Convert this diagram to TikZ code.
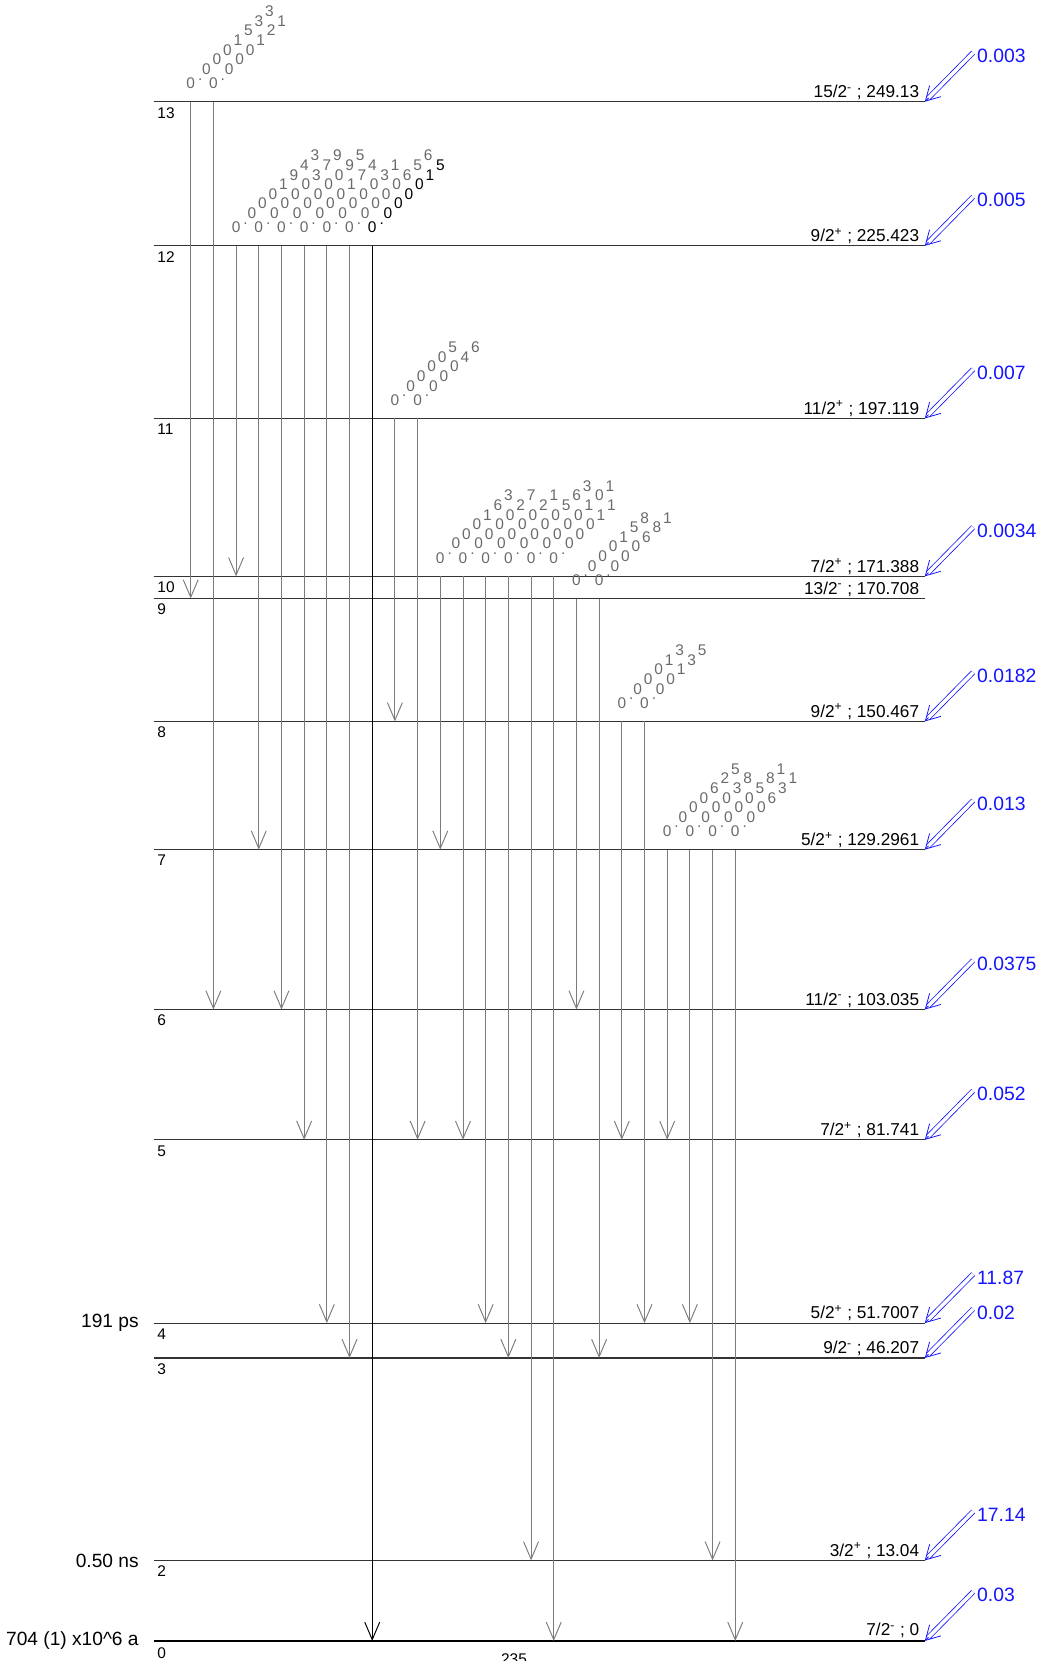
\documentclass[tikz,border=0pt]{standalone}
\usepackage{fontspec}
\setmainfont{Liberation Sans}
\usetikzlibrary{arrows.meta,calc}
\definecolor{lvlc}{HTML}{333333}
\definecolor{gam}{HTML}{7C7C7C}
\definecolor{glab}{HTML}{6A6A6A}
\definecolor{feedc}{HTML}{1414FF}

% one step along a slanted intensity label
\newcommand{\sx}{10.5}
\newcommand{\sy}{-9.6}
% \ilab[colour]{gamma}{level}{digits after "0."}
\newcommand{\ilab}[4][glab]{%
  \coordinate (#2b) at ($(#2 |- #3)+(0,-13)$);
  \node[glyph,text=#1] (#2z) at (#2b) {0};
  \node[glyph,text=#1] (#2p) at ($(#2b)+(0.9*\sx,0.9*\sy)$) {.};
  \foreach \c [count=\k] in {#4}
    \node[glyph,text=#1] (#2d\k) at ($(#2b)+({(\k+0.5)*\sx},{(\k+0.5)*\sy})$) {\c};
}

\begin{document}
\begin{tikzpicture}[x=0.02cm,y=-0.02cm,
  level/.style={lvlc,line width=0.6pt},
  gline/.style={gam,line width=0.55pt,-{Straight Barb[length=10pt,width=8.5pt]}},
  glyph/.style={anchor=base,inner sep=0pt,font=\fontsize{8.8}{9}\selectfont},
  num/.style={anchor=west,inner sep=0pt,font=\fontsize{8.8}{10}\selectfont},
  spin/.style={anchor=base east,inner sep=0pt,font=\fontsize{9.8}{11}\selectfont},
  life/.style={anchor=east,inner sep=0pt,font=\fontsize{10.9}{12}\selectfont},
  feedlab/.style={anchor=west,inner sep=0pt,text=feedc,font=\fontsize{11}{13}\selectfont},
  feed/.style={feedc,line width=0.45pt,double,double distance=2pt,shorten <=3pt,shorten >=2.5pt},
  feedtip/.style={feedc,line width=0.45pt,-{Straight Barb[length=8pt,width=9pt]}}]
  \useasboundingbox (0,0) rectangle (1037,1661);

  % levels
  \coordinate (l13) at (153.6,101.7);  \coordinate (r13) at (924.8,101.7);
  \coordinate (l12) at (153.6,245.8);  \coordinate (r12) at (924.8,245.8);
  \coordinate (l11) at (153.6,418.4);  \coordinate (r11) at (924.8,418.4);
  \coordinate (l10) at (153.6,576.3);  \coordinate (r10) at (924.8,576.3);
  \coordinate (l9) at (153.6,598.5);   \coordinate (r9) at (924.8,598.5);
  \coordinate (l8) at (153.6,721.4);   \coordinate (r8) at (924.8,721.4);
  \coordinate (l7) at (153.6,849.6);   \coordinate (r7) at (924.8,849.6);
  \coordinate (l6) at (153.6,1009.5);  \coordinate (r6) at (924.8,1009.5);
  \coordinate (l5) at (153.6,1139.8);  \coordinate (r5) at (924.8,1139.8);
  \coordinate (l4) at (153.6,1323.1);  \coordinate (r4) at (924.8,1323.1);
  \coordinate (l3) at (153.6,1358.0);  \coordinate (r3) at (924.8,1358.0);
  \coordinate (l2) at (153.6,1560.4);  \coordinate (r2) at (924.8,1560.4);
  \coordinate (l0) at (153.6,1640.9);  \coordinate (r0) at (924.8,1640.9);

  \draw[level] (l13) -- (r13); \draw[level] (l12) -- (r12); \draw[level] (l11) -- (r11);
  \draw[level] (l10) -- (r10); \draw[level] (l9) -- (r9);   \draw[level] (l8) -- (r8);
  \draw[level] (l7) -- (r7);   \draw[level] (l6) -- (r6);   \draw[level] (l5) -- (r5);
  \draw[level] (l4) -- (r4);   \draw[level] (l3) -- (r3);   \draw[level] (l2) -- (r2);
  \draw[black,line width=1.4pt] (l0) -- (r0);

  \node[num] (n13) at ($(l13)+(3.5,11)$) {13};
  \node[num] (n12) at ($(l12)+(3.5,11)$) {12};
  \node[num] (n11) at ($(l11)+(3.5,11)$) {11};
  \node[num] (n10) at ($(l10)+(3.5,11)$) {10};
  \node[num] (n9) at ($(l9)+(3.5,11)$) {9};
  \node[num] (n8) at ($(l8)+(3.5,11)$) {8};
  \node[num] (n7) at ($(l7)+(3.5,11)$) {7};
  \node[num] (n6) at ($(l6)+(3.5,11)$) {6};
  \node[num] (n5) at ($(l5)+(3.5,11)$) {5};
  \node[num] (n4) at ($(l4)+(3.5,11)$) {4};
  \node[num] (n3) at ($(l3)+(3.5,11)$) {3};
  \node[num] (n2) at ($(l2)+(3.5,11)$) {2};
  \node[num] (n0) at ($(l0)+(3.5,12.5)$) {0};

  \node[spin] (s13) at ($(r13)+(-5.3,-4.2)$) {15/2\textsuperscript{-} ; 249.13};
  \node[spin] (s12) at ($(r12)+(-5.3,-4.2)$) {9/2\textsuperscript{+} ; 225.423};
  \node[spin] (s11) at ($(r11)+(-5.3,-4.2)$) {11/2\textsuperscript{+} ; 197.119};
  \node[spin] (s10) at ($(r10)+(-5.3,-4.2)$) {7/2\textsuperscript{+} ; 171.388};
  \node[spin] (s9) at ($(r9)+(-5.3,-4.2)$) {13/2\textsuperscript{-} ; 170.708};
  \node[spin] (s8) at ($(r8)+(-5.3,-4.2)$) {9/2\textsuperscript{+} ; 150.467};
  \node[spin] (s7) at ($(r7)+(-5.3,-4.2)$) {5/2\textsuperscript{+} ; 129.2961};
  \node[spin] (s6) at ($(r6)+(-5.3,-4.2)$) {11/2\textsuperscript{-} ; 103.035};
  \node[spin] (s5) at ($(r5)+(-5.3,-4.2)$) {7/2\textsuperscript{+} ; 81.741};
  \node[spin] (s4) at ($(r4)+(-5.3,-4.2)$) {5/2\textsuperscript{+} ; 51.7007};
  \node[spin] (s3) at ($(r3)+(-5.3,-4.2)$) {9/2\textsuperscript{-} ; 46.207};
  \node[spin] (s2) at ($(r2)+(-5.3,-4.2)$) {3/2\textsuperscript{+} ; 13.04};
  \node[spin] (s0) at ($(r0)+(-5.3,-5.5)$) {7/2\textsuperscript{-} ; 0};

  \node[life] (t4) at ($(l4)+(-14.6,0)$) {191 ps};
  \node[life] (t2) at ($(l2)+(-14.6,0)$) {0.50 ns};
  \node[life] (t0) at ($(l0)+(-14.6,0)$) {704 (1) x10\textasciicircum 6 a};
  \node[anchor=north,inner sep=0pt,font=\fontsize{8.8}{10}\selectfont] (nuc) at (514,1653) {235};

  % alpha feeding
  \node[feedlab] (f13) at ($(r13)+(52,-45.6)$) {0.003};
  \node[feedlab] (f12) at ($(r12)+(52,-45.6)$) {0.005};
  \node[feedlab] (f11) at ($(r11)+(52,-45.6)$) {0.007};
  \node[feedlab] (f10) at ($(r10)+(52,-45.6)$) {0.0034};
  \node[feedlab] (f8) at ($(r8)+(52,-45.6)$) {0.0182};
  \node[feedlab] (f7) at ($(r7)+(52,-45.6)$) {0.013};
  \node[feedlab] (f6) at ($(r6)+(52,-45.6)$) {0.0375};
  \node[feedlab] (f5) at ($(r5)+(52,-45.6)$) {0.052};
  \node[feedlab] (f4) at ($(r4)+(52,-45.6)$) {11.87};
  \node[feedlab] (f3) at ($(r3)+(52,-45.6)$) {0.02};
  \node[feedlab] (f2) at ($(r2)+(52,-45.6)$) {17.14};
  \node[feedlab] (f0) at ($(r0)+(52,-45.6)$) {0.03};

  \draw[feed] (f13.north west) -- (r13); \draw[feedtip] ($(r13)!3pt!(f13.north west)$) -- (r13);
  \draw[feed] (f12.north west) -- (r12); \draw[feedtip] ($(r12)!3pt!(f12.north west)$) -- (r12);
  \draw[feed] (f11.north west) -- (r11); \draw[feedtip] ($(r11)!3pt!(f11.north west)$) -- (r11);
  \draw[feed] (f10.north west) -- (r10); \draw[feedtip] ($(r10)!3pt!(f10.north west)$) -- (r10);
  \draw[feed] (f8.north west) -- (r8);   \draw[feedtip] ($(r8)!3pt!(f8.north west)$) -- (r8);
  \draw[feed] (f7.north west) -- (r7);   \draw[feedtip] ($(r7)!3pt!(f7.north west)$) -- (r7);
  \draw[feed] (f6.north west) -- (r6);   \draw[feedtip] ($(r6)!3pt!(f6.north west)$) -- (r6);
  \draw[feed] (f5.north west) -- (r5);   \draw[feedtip] ($(r5)!3pt!(f5.north west)$) -- (r5);
  \draw[feed] (f4.north west) -- (r4);   \draw[feedtip] ($(r4)!3pt!(f4.north west)$) -- (r4);
  \draw[feed] (f3.north west) -- (r3);   \draw[feedtip] ($(r3)!3pt!(f3.north west)$) -- (r3);
  \draw[feed] (f2.north west) -- (r2);   \draw[feedtip] ($(r2)!3pt!(f2.north west)$) -- (r2);
  \draw[feed] (f0.north west) -- (r0);   \draw[feedtip] ($(r0)!3pt!(f0.north west)$) -- (r0);

  % gamma transitions
  \foreach \i in {0,...,24} \coordinate (g\i) at ({190.7+22.69*\i},0);

  \draw[gline] (g0 |- l13) -- (g0 |- l9);
  \draw[gline] (g1 |- l13) -- (g1 |- l6);
  \draw[gline] (g2 |- l12) -- (g2 |- l10);
  \draw[gline] (g3 |- l12) -- (g3 |- l7);
  \draw[gline] (g4 |- l12) -- (g4 |- l6);
  \draw[gline] (g5 |- l12) -- (g5 |- l5);
  \draw[gline] (g6 |- l12) -- (g6 |- l4);
  \draw[gline] (g7 |- l12) -- (g7 |- l3);
  \draw[gline,black] (g8 |- l12) -- (g8 |- l0);
  \draw[gline] (g9 |- l11) -- (g9 |- l8);
  \draw[gline] (g10 |- l11) -- (g10 |- l5);
  \draw[gline] (g11 |- l10) -- (g11 |- l7);
  \draw[gline] (g12 |- l10) -- (g12 |- l5);
  \draw[gline] (g13 |- l10) -- (g13 |- l4);
  \draw[gline] (g14 |- l10) -- (g14 |- l3);
  \draw[gline] (g15 |- l10) -- (g15 |- l2);
  \draw[gline] (g16 |- l10) -- (g16 |- l0);
  \draw[gline] (g17 |- l9) -- (g17 |- l6);
  \draw[gline] (g18 |- l9) -- (g18 |- l3);
  \draw[gline] (g19 |- l8) -- (g19 |- l5);
  \draw[gline] (g20 |- l8) -- (g20 |- l4);
  \draw[gline] (g21 |- l7) -- (g21 |- l5);
  \draw[gline] (g22 |- l7) -- (g22 |- l4);
  \draw[gline] (g23 |- l7) -- (g23 |- l2);
  \draw[gline] (g24 |- l7) -- (g24 |- l0);

  % gamma intensities
  \ilab{g0}{l13}{0,0,0,1,5,3,3}
  \ilab{g1}{l13}{0,0,0,1,2,1}
  \ilab{g2}{l12}{0,0,0,1,9,4,3}
  \ilab{g3}{l12}{0,0,0,0,3,7,9}
  \ilab{g4}{l12}{0,0,0,0,0,9,5}
  \ilab{g5}{l12}{0,0,0,1,7,4}
  \ilab{g6}{l12}{0,0,0,0,3,1}
  \ilab{g7}{l12}{0,0,0,0,6,5,6}
  \ilab[black]{g8}{l12}{0,0,0,0,1,5}
  \ilab{g9}{l11}{0,0,0,0,5}
  \ilab{g10}{l11}{0,0,0,4,6}
  \ilab{g11}{l10}{0,0,0,1,6,3}
  \ilab{g12}{l10}{0,0,0,0,2,7}
  \ilab{g13}{l10}{0,0,0,0,2,1}
  \ilab{g14}{l10}{0,0,0,0,5,6,3}
  \ilab{g15}{l10}{0,0,0,0,1,0,1}
  \ilab{g16}{l10}{0,0,0,1,1}
  \ilab{g17}{l9}{0,0,0,1,5,8}
  \ilab{g18}{l9}{0,0,0,6,8,1}
  \ilab{g19}{l8}{0,0,0,1,3}
  \ilab{g20}{l8}{0,0,1,3,5}
  \ilab{g21}{l7}{0,0,0,6,2,5}
  \ilab{g22}{l7}{0,0,0,3,8}
  \ilab{g23}{l7}{0,0,0,5,8,1}
  \ilab{g24}{l7}{0,0,6,3,1}
\end{tikzpicture}
\end{document}
